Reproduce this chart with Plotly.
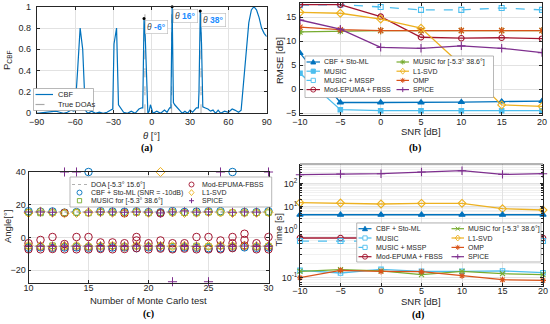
import plotly.graph_objects as go

W, H = 550, 324
FONT = "Liberation Sans"
SERIF = "Liberation Serif"
TXT = "#262626"
GRID = "#e2e2e2"

C_BLUE = "#0072BD"
C_ORANGE = "#D95319"
C_YELLOW = "#EDB120"
C_PURPLE = "#7E2F8E"
C_GREEN = "#77AC30"
C_CYAN = "#4DBEEE"
C_RED = "#A2142F"
C_GRAY = "#a8a8a8"
C_TIP = "#1a8cff"

# ---------------- (a) CBF spectrum ----------------
THETA = [-90, -86, -82, -78, -75, -72, -69, -66, -63, -61,
         -60, -58, -56, -54, -52, -50, -47, -44, -41, -38, -35, -32, -30.5,
         -29.5, -27.5, -26, -24, -22, -19, -16, -13, -10, -8, -7,
         -6, -5, -4, -3, -2, -1, 0, 1, 4, 7, 10, 12, 14, 15,
         16, 17, 18, 20, 22, 24, 26, 28, 30, 32, 35, 36.5,
         37, 38, 39, 40, 42, 44, 46, 48, 50, 52, 54, 57, 60, 63, 65, 68, 70,
         72, 74, 76, 78, 80, 82, 84, 86, 88, 90]
P_CBF = [0.0, 0.005, 0.01, 0.02, 0.02, 0.01, 0.0, 0.01, 0.03, 0.02,
         0.03, 0.4, 0.8, 0.6, 0.03, 0.0, 0.02, 0.0, 0.01, 0.0, 0.01, 0.03, 0.04,
         0.65, 0.8, 0.08, 0.05, 0.01, 0.0, 0.02, 0.0, 0.04, 0.05, 0.05,
         0.89, 0.7, 0.35, 0.0, 0.02, 0.08, 0.04, 0.0, 0.02, 0.0, 0.03, 0.01, 0.05, 0.05,
         1.0, 0.1, 0.08, 0.05, 0.02, 0.0, 0.02, 0.0, 0.03, 0.01, 0.05, 0.05,
         0.2, 0.96, 0.65, 0.06, 0.05, 0.04, 0.02, 0.03, 0.0, 0.03, 0.0, 0.02, 0.01, 0.04, 0.03, 0.01, 0.03,
         0.3, 0.62, 0.85, 0.97, 1.0, 0.97, 0.9, 0.8, 0.75, 0.72]
TRUE_DOA = [-5.3, 15.6, 38.6]
TIP_THETA = [-6, 16, 38]
TIP_P = [0.89, 1.0, 0.96]
THETA_TICKS = [-90, -60, -30, 0, 30, 60, 90]

# ---------------- (b) RMSE vs SNR ----------------
SNR = [-10, -5, 0, 5, 10, 15, 20]
RMSE_CBF = [7.5, -2.8, -2.8, -2.8, -2.7, -2.6, -2.5]
RMSE_MUSIC = [3.3, -4.3, -4.5, -4.5, -4.5, -4.5, -4.5]
RMSE_MSSP = [17.5, 17.6, 17.1, 16.5, 16.5, 16.9, 16.5]
RMSE_EPUMA = [17.6, 17.6, 15.1, 10.8, 10.6, 10.7, 10.5]
RMSE_MUSICFOR = [11.9, 12.1, 12.2, 12.2, 12.2, 12.2, 12.2]
RMSE_L1 = [16.0, 15.8, 14.6, 12.7, 5.0, -3.3, -3.6]
RMSE_OMP = [12.9, 12.4, 12.2, 12.2, 12.2, 12.2, 12.2]
RMSE_SPICE = [14.4, 12.5, 8.7, 8.5, 9.0, 8.5, 7.6]

# ---------------- (c) Monte Carlo estimates ----------------
MC_TEST = [10, 11, 12, 13, 14, 15, 16, 17, 18, 19, 20, 21, 22, 23, 24, 25, 26, 27, 28, 29, 30]
DOA_REF = [-5.3, 15.6]
CBF_UP = [16.0, 15.8, 15.9, 15.2, 15.5, 40.0, 16.1, 15.9, 15.7, 16.0, 15.5, 15.4, 16.2, 15.6, 15.8, 16.0, 16.1, 40.0, 15.6, 15.5, 16.0]
CBF_LOW = [-6.2, -6.0, -6.3, -6.1, -6.0, -6.2, -6.4, -6.1, -6.0, -6.5, -6.0, -6.2, -6.6, -6.1, -6.3, -6.5, -6.6, -6.2, -6.0, -6.3, -6.1]
MF_UP = [15.3, 15.0, 15.2, 15.0, 15.3, 15.0, 15.4, 15.2, 15.1, 15.3, 15.0, 15.2, 15.3, 15.1, 15.0, 15.4, 15.3, 15.2, 15.0, 15.1, 15.2]
MF_LOW = [-5.2, -5.5, -5.0, -5.4, -5.2, -5.6, -5.3, -5.1, -5.5, -5.2, -5.4, -5.0, -5.3, -5.5, -5.2, -5.4, -5.1, -5.3, -5.2, -5.5, -5.3]
EP_A = [-3.5, -1.5, 0.3, -4.0, 0.3, 0.3, -3.0, -3.0, -3.5, 0.3, -3.5, -1.8, -3.5, -3.5, 0.3, 0.3, -1.8, 0.3, 2.3, -3.5, 0.3]
EP_B = [-7.2, -7.2, -7.0, -7.2, -7.2, -7.2, -7.0, -7.2, -7.0, -6.5, -7.2, -6.8, -7.2, -6.8, -7.2, -7.2, -7.2, -6.5, -5.0, -7.2, -7.2]
EP_EXTRA_TEST = [13, 18, 19, 21, 27, 28]
EP_EXTRA_ANGLE = [15.0, 14.8, -1.8, 14.8, -3.5, -1.5]
L1_UP = [15.0, 15.8, 15.2, 14.8, 15.0, 15.3, 15.5, 15.2, 15.0, 15.6, 15.1, 40.0, 15.3, 15.0, 15.2, 15.6, 15.3, 15.0, 15.2, 15.1, 15.4]
L1_LOW = [-5.0, -5.3, -5.6, -5.2, -5.0, -5.4, -5.3, -5.1, -5.5, -5.0, -5.3, -5.2, -5.4, -5.1, -5.6, -5.2, -5.0, -5.3, -5.1, -5.4, -5.2]
SP_UP = [15.6, 15.6, 15.4, 40.0, 40.0, 15.5, 15.6, 15.6, 15.4, 15.6, 15.5, 15.0, 15.6, 16.2, 15.5, 15.6, 40.0, 15.4, 15.6, 15.5, 40.0]
SP_LOW = [-5.3, -5.3, -5.4, -5.3, -5.3, -5.2, -5.3, -5.4, -5.3, -5.3, -5.2, -5.3, -27.0, -5.3, -5.4, -27.0, -5.3, -5.3, -5.2, -5.3, -5.3]

# ---------------- (d) run time vs SNR ----------------
TIME_CBF = [4.4, 4.4, 4.4, 4.4, 4.4, 4.4, 4.4]
TIME_MUSIC = [0.141, 0.124, 0.148, 0.134, 0.134, 0.137, 0.126]
TIME_MSSP = [0.575, 0.575, 0.575, 0.575, 0.575, 0.575, 0.575]
TIME_EPUMA = [0.665, 0.665, 0.665, 0.665, 0.665, 0.665, 0.665]
TIME_MUSICFOR = [0.134, 0.146, 0.137, 0.115, 0.134, 0.120, 0.115]
TIME_L1 = [14.8, 14.3, 13.0, 13.9, 13.9, 8.1, 7.1]
TIME_OMP = [0.099, 0.141, 0.134, 0.132, 0.109, 0.090, 0.087]
TIME_SPICE = [247, 265, 273, 323, 369, 255, 273]


def X(p):
    return p / W


def Y(p):
    return 1 - p / H


fig = go.Figure()

# ---- (a)
fig.add_trace(go.Scatter(x=THETA, y=P_CBF, mode="lines", line=dict(color=C_BLUE, width=1.2),
                         xaxis="x", yaxis="y", cliponaxis=False, showlegend=False))
fig.add_trace(go.Scatter(x=TIP_THETA, y=TIP_P, mode="markers", marker=dict(color="black", size=3),
                         xaxis="x", yaxis="y", cliponaxis=False, showlegend=False))

# ---- (b)
B_SERIES = [
    (RMSE_CBF, C_BLUE, "solid", "triangle-up", 5.5),
    (RMSE_MUSIC, C_CYAN, "solid", "square", 4.5),
    (RMSE_MSSP, C_CYAN, "dash", "square-open", 5),
    (RMSE_EPUMA, C_RED, "solid", "circle-open", 5.5),
    (RMSE_MUSICFOR, C_GREEN, "solid", "asterisk-open", 6),
    (RMSE_OMP, C_ORANGE, "solid", "asterisk-open", 6),
    (RMSE_L1, C_YELLOW, "solid", "diamond-open", 6),
    (RMSE_SPICE, C_PURPLE, "solid", "cross-thin-open", 6),
]
for vals, col, dash, sym, sz in B_SERIES:
    fig.add_trace(go.Scatter(x=SNR, y=vals, mode="lines+markers", xaxis="x2", yaxis="y2",
                             line=dict(color=col, width=1.3, dash=dash),
                             marker=dict(symbol=sym, size=sz, color=col, line=dict(color=col, width=1.1)),
                             showlegend=False))

# ---- (c)
C_SERIES = [
    (MC_TEST + MC_TEST, CBF_UP + CBF_LOW, C_BLUE, "circle-open", 7.5),
    (MC_TEST + MC_TEST, MF_UP + MF_LOW, C_GREEN, "square-open", 5.5),
    (MC_TEST + MC_TEST + EP_EXTRA_TEST, EP_A + EP_B + EP_EXTRA_ANGLE, C_RED, "circle-open", 7.5),
    (MC_TEST + MC_TEST, L1_UP + L1_LOW, C_YELLOW, "diamond-open", 7),
    (MC_TEST + MC_TEST, SP_UP + SP_LOW, C_PURPLE, "cross-thin-open", 6.5),
]
for xs, ys, col, sym, sz in C_SERIES:
    fig.add_trace(go.Scatter(x=xs, y=ys, mode="markers", xaxis="x3", yaxis="y3", cliponaxis=False,
                             marker=dict(symbol=sym, size=sz, color=col, line=dict(color=col, width=1.0)),
                             showlegend=False))

# ---- (d)  (upper part y4: >= 1 s, lower part y5: < 1 s)
D_SERIES = [
    (TIME_SPICE, "y4", C_PURPLE, "solid", "cross-thin-open", 6),
    (TIME_L1, "y4", C_YELLOW, "solid", "diamond-open", 6),
    (TIME_CBF, "y4", C_BLUE, "solid", "triangle-up", 5.5),
    (TIME_EPUMA, "y5", C_RED, "solid", "circle-open", 5.5),
    (TIME_MSSP, "y5", C_CYAN, "dash", "square-open", 5),
    (TIME_MUSIC, "y5", C_CYAN, "solid", "square-open", 4.5),
    (TIME_MUSICFOR, "y5", C_GREEN, "solid", "x-thin-open", 5),
    (TIME_OMP, "y5", C_ORANGE, "solid", "asterisk-open", 5),
]
for vals, ya, col, dash, sym, sz in D_SERIES:
    fig.add_trace(go.Scatter(x=SNR, y=vals, mode="lines+markers", xaxis="x4", yaxis=ya,
                             line=dict(color=col, width=1.3, dash=dash),
                             marker=dict(symbol=sym, size=sz, color=col, line=dict(color=col, width=1.1)),
                             cliponaxis=False, showlegend=False))

# ---------------- manual compact legends ----------------
shapes = []
annos = []

# reference lines (true DOAs)
for d in TRUE_DOA:
    shapes.append(dict(type="line", xref="x", yref="y", x0=d, x1=d, y0=0, y1=1,
                       line=dict(color=C_GRAY, width=1, dash="dash"), layer="below"))
for d in DOA_REF:
    shapes.append(dict(type="line", xref="x3", yref="y3", x0=MC_TEST[0], x1=MC_TEST[-1], y0=d, y1=d,
                       line=dict(color="#b0b0b0", width=1.6, dash="dot"), layer="below"))


def box(x0, y0, x1, y1):
    shapes.append(dict(type="rect", xref="paper", yref="paper", x0=X(x0), x1=X(x1), y0=Y(y1), y1=Y(y0),
                       line=dict(color="#9a9a9a", width=0.7), fillcolor="white", layer="above"))


def seg(x0, y0, x1, y1, color, width=1.0, dash="solid"):
    shapes.append(dict(type="line", xref="paper", yref="paper", x0=X(x0), y0=Y(y0), x1=X(x1), y1=Y(y1),
                       line=dict(color=color, width=width, dash=dash), layer="above"))


def path(pts, color, fill):
    p = "M" + " L".join(f"{X(a):.5f},{Y(b):.5f}" for a, b in pts) + " Z"
    shapes.append(dict(type="path", xref="paper", yref="paper", path=p, fillcolor=fill,
                       line=dict(color=color, width=0.9), layer="above"))


def glyph(sym, cx, cy, color, r=2.5):
    if sym == "tri":
        path([(cx, cy - r), (cx + r, cy + r * 0.8), (cx - r, cy + r * 0.8)], color, color)
    elif sym in ("sq", "sqo"):
        rr = r * 0.85
        shapes.append(dict(type="rect", xref="paper", yref="paper", x0=X(cx - rr), x1=X(cx + rr),
                           y0=Y(cy + rr), y1=Y(cy - rr), line=dict(color=color, width=0.9),
                           fillcolor=(color if sym == "sq" else "white"), layer="above"))
    elif sym == "ci":
        shapes.append(dict(type="circle", xref="paper", yref="paper", x0=X(cx - r), x1=X(cx + r),
                           y0=Y(cy + r), y1=Y(cy - r), line=dict(color=color, width=0.9),
                           fillcolor="rgba(0,0,0,0)", layer="above"))
    elif sym == "di":
        path([(cx, cy - r * 1.2), (cx + r, cy), (cx, cy + r * 1.2), (cx - r, cy)], color, "rgba(0,0,0,0)")
    elif sym == "plus":
        seg(cx - r, cy, cx + r, cy, color, 1.0)
        seg(cx, cy - r, cx, cy + r, color, 1.0)
    elif sym == "x":
        seg(cx - r * 0.8, cy - r * 0.8, cx + r * 0.8, cy + r * 0.8, color, 1.0)
        seg(cx - r * 0.8, cy + r * 0.8, cx + r * 0.8, cy - r * 0.8, color, 1.0)
    elif sym == "ast":
        seg(cx - r, cy, cx + r, cy, color, 1.0)
        seg(cx, cy - r, cx, cy + r, color, 1.0)
        seg(cx - r * 0.7, cy - r * 0.7, cx + r * 0.7, cy + r * 0.7, color, 1.0)
        seg(cx - r * 0.7, cy + r * 0.7, cx + r * 0.7, cy - r * 0.7, color, 1.0)


def text(x, y, s, size=7, anchor="left", color=TXT, family=FONT, angle=0):
    annos.append(dict(x=X(x), y=Y(y), xref="paper", yref="paper", text=s, showarrow=False,
                      xanchor=anchor, yanchor="middle", textangle=angle,
                      font=dict(family=family, size=size, color=color)))


def entry(x0, x1, y, color, dash, sym, label, xt, size=7):
    if dash is not None:
        seg(x0, y, x1, y, color, 1.2, dash)
    if sym:
        glyph(sym, (x0 + x1) / 2, y, color)
    text(xt, y, label, size=size)


LEG_BD = [("CBF + Sto-ML", C_BLUE, "solid", "tri"),
          ("MUSIC for [-5.3° 38.6°]", C_GREEN, "solid", "ast"),
          ("MUSIC", C_CYAN, "solid", "sq"),
          ("L1-SVD", C_YELLOW, "solid", "di"),
          ("MUSIC + MSSP", C_CYAN, "dash", "sqo"),
          ("OMP", C_ORANGE, "solid", "ast"),
          ("Mod-EPUMA + FBSS", C_RED, "solid", "ci"),
          ("SPICE", C_PURPLE, "solid", "plus")]

# legend (a)
box(33.5, 88.5, 93.5, 110.5)
entry(35.5, 53, 94.5, C_BLUE, "solid", None, "CBF", 56, size=7.5)
entry(35.5, 53, 104.5, C_GRAY, "dash", None, "True DOAs", 56, size=7.5)

# legend (b)
box(305, 56, 493.5, 97.5)
rows_b = [62, 71.2, 80.4, 89.6]
for i, (lab, col, dash, sym) in enumerate(LEG_BD):
    r, c = divmod(i, 2)
    if c == 0:
        entry(306.5, 320, rows_b[r], col, dash, sym, lab, 321.5)
    else:
        entry(396.5, 409, rows_b[r], col, dash, sym, lab, 410.5)

# legend (d)
box(356.7, 223, 541, 262)
rows_d = [228.7, 238, 247.4, 256.7]
for i, (lab, col, dash, sym) in enumerate(LEG_BD):
    r, c = divmod(i, 2)
    if lab.startswith("MUSIC for"):
        sym = "x"
    if lab == "MUSIC":
        sym = "sqo"
    if c == 0:
        entry(358.5, 371.5, rows_d[r], col, dash, sym, lab, 373.5)
    else:
        entry(451.5, 464, rows_d[r], col, dash, sym, lab, 465.5)

# legend (c)
box(70, 177, 271.7, 207)
rows_c = [184.5, 192.6, 200.7]
entry(72, 87, rows_c[0], "#b0b0b0", "dot", None, "DOA [-5.3° 15.6°]", 88.5)
entry(72, 87, rows_c[1], C_BLUE, None, "ci", "CBF + Sto-ML (SNR = -10dB)", 88.5)
entry(72, 87, rows_c[2], C_GREEN, None, "sqo", "MUSIC for [-5.3° 38.6°]", 88.5)
entry(185, 198, rows_c[0], C_RED, None, "ci", "Mod-EPUMA-FBSS", 200)
entry(185, 198, rows_c[1], C_YELLOW, None, "di", "L1-SVD", 200)
entry(185, 198, rows_c[2], C_PURPLE, None, "plus", "SPICE", 200)

# top border of panel (d)
seg(300, 164, 543, 164, TXT, 0.7)

# data tips in (a)
for th, pv in zip(TIP_THETA, TIP_P):
    annos.append(dict(x=th, y=pv, xref="x", yref="y", showarrow=False, xanchor="left", yanchor="top",
                      xshift=1, yshift=-2,
                      text=f"<span style='color:#444'><i>θ</i></span> <b><span style='color:{C_TIP}'>{th}°</span></b>",
                      font=dict(family=FONT, size=8.5), bgcolor="white", bordercolor="#b8b8b8",
                      borderwidth=0.6, borderpad=1.5))

# axis titles
text(151, 135.5, "<i>θ</i> [°]", size=9.5, anchor="center")
text(7, 60, "P<sub>CBF</sub>", size=9.5, anchor="center", angle=-90)
text(421, 131, "SNR [dB]", size=9.5, anchor="center")
text(280, 60, "RMSE [dB]", size=9.5, anchor="center", angle=-90)
text(148, 300.5, "Number of Monte Carlo test", size=9.5, anchor="center")
text(7, 227, "Angle[°]", size=9.5, anchor="center", angle=-90)
text(421, 301, "SNR [dB]", size=9.5, anchor="center")
text(277.5, 230, "Time [s]", size=9.5, anchor="center", angle=-90)

# sub-captions
for lab, cx, cy in [("(a)", 147, 148.5), ("(b)", 415, 148.5), ("(c)", 148, 313.5), ("(d)", 418, 314.5)]:
    text(cx, cy, f"<b>{lab}</b>", size=10, anchor="center", family=SERIF, color="black")


def ax(**kw):
    d = dict(showline=True, linecolor=TXT, linewidth=0.7, mirror="ticks", ticks="inside",
             ticklen=3, tickwidth=0.6, tickcolor=TXT, showgrid=True, gridcolor=GRID, gridwidth=0.6,
             zeroline=False, automargin=False, fixedrange=True,
             tickfont=dict(family=FONT, size=9, color=TXT))
    d.update(kw)
    return d


fig.update_layout(
    width=W, height=H, template="none",
    margin=dict(l=0, r=0, t=0, b=0, pad=0),
    paper_bgcolor="white", plot_bgcolor="white",
    showlegend=False,
    xaxis=ax(domain=[X(36.7), X(266.7)], range=[-90, 90], tickvals=THETA_TICKS, anchor="y",
             ticklabelstandoff=0),
    yaxis=ax(domain=[Y(113.3), Y(6.7)], range=[0, 1], dtick=0.2, anchor="x", ticklabelstandoff=3),
    xaxis2=ax(domain=[X(300), X(542)], range=[-10, 20], dtick=5, anchor="y2", ticklabelstandoff=-2),
    yaxis2=ax(domain=[Y(115), Y(2.7)], range=[-5.4, 18], tickvals=[-5, 0, 5, 10, 15], anchor="x2",
              ticklabelstandoff=1),
    xaxis3=ax(domain=[X(28.5), X(268.5)], range=[10, 30], dtick=5, anchor="y3", ticklabelstandoff=-3),
    yaxis3=ax(domain=[Y(282.7), Y(172)], range=[-27.6, 40], tickvals=[-20, 0, 20, 40], anchor="x3"),
    xaxis4=ax(domain=[X(300), X(543)], range=[-10, 20], dtick=5, anchor="y5", mirror=False,
              ticklabelstandoff=-4),
    yaxis4=ax(domain=[Y(229.5), Y(164)], type="log", range=[0, 2.86], anchor="x4",
              tickvals=[1, 10, 100], ticktext=["10<sup>0</sup>", "10<sup>1</sup>", "10<sup>2</sup>"],
              minor=dict(dtick="D1", showgrid=True, gridcolor="#f1f1f1", ticks="inside", ticklen=2,
                         tickcolor=TXT)),
    yaxis5=ax(domain=[Y(286), Y(229.5)], type="log", range=[-1.177, 0], anchor="x4",
              tickvals=[0.1], ticktext=["10<sup>-1</sup>"],
              minor=dict(dtick="D1", showgrid=True, gridcolor="#f1f1f1", ticks="inside", ticklen=2,
                         tickcolor=TXT)),
    shapes=shapes,
    annotations=annos,
)

fig.write_html("out.html", config={"displayModeBar": False},
               post_script="document.body.style.margin='0px';")
